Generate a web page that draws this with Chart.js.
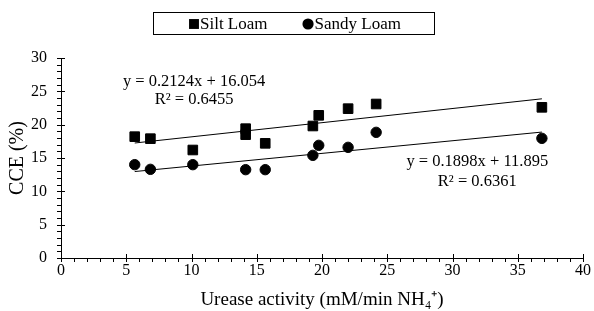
<!DOCTYPE html>
<html>
<head>
<meta charset="utf-8">
<script src="https://cdn.jsdelivr.net/npm/chart.js@4.4.1/dist/chart.umd.min.js"></script>
<style>
  body { margin: 0; background: #fff; }
  #wrap { width: 594px; height: 311px; }
</style>
</head>
<body>
<div id="wrap"><canvas id="myChart" width="594" height="311"></canvas></div>
<script>
// values
let siltX = [5.65, 6.85, 10.1, 14.15, 14.15, 15.65, 19.3, 19.75, 22.0, 24.15, 36.85];
let siltY = [18.2, 17.9, 16.2, 19.4, 18.5, 17.2, 19.8, 21.4, 22.4, 23.1, 22.6];
let sandyX = [5.65, 6.85, 10.1, 14.15, 15.65, 19.3, 19.75, 22.0, 24.15, 36.85];
let sandyY = [14.0, 13.3, 14.0, 13.25, 13.25, 15.4, 16.9, 16.6, 18.85, 17.95];

// trendline ends (as drawn in the picture)
let trendX = [5.65, 36.85];
let siltTrendY = [17.25, 23.88];
let sandyTrendY = [12.97, 18.89];

let seriesNames = ["Silt Loam", "Sandy Loam"];
let siltEquation = ["y = 0.2124x + 16.054", "R² = 0.6455"];
let sandyEquation = ["y = 0.1898x + 11.895", "R² = 0.6361"];
let xTitle = "Urease activity (mM/min NH₄⁺)";
let yTitle = "CCE (%)";

const FONT = "'Liberation Serif', 'Times New Roman', serif";

function toPoints(xs, ys) {
  return xs.map((x, i) => ({ x: x, y: ys[i] }));
}

// axis ticks, legend box and trendline equations
const extras = {
  id: "extras",
  afterDraw(chart) {
    let ctx = chart.ctx;
    let xs = chart.scales.x;
    let ys = chart.scales.y;
    let area = chart.chartArea;
    ctx.save();
    ctx.strokeStyle = "#000";
    ctx.lineWidth = 1;

    // minor ticks every 1 unit, major ticks cross the axis
    ctx.beginPath();
    for (let v = 0; v <= 40; v++) {
      let px = Math.round(xs.getPixelForValue(v)) + 0.5;
      ctx.moveTo(px, area.bottom + 4);
      ctx.lineTo(px, v % 5 === 0 ? area.bottom - 4 : area.bottom);
    }
    for (let v = 0; v <= 30; v++) {
      let py = Math.round(ys.getPixelForValue(v)) + 0.5;
      ctx.moveTo(area.left - 4, py);
      ctx.lineTo(v % 5 === 0 ? area.left + 4 : area.left, py);
    }
    ctx.stroke();

    // legend
    ctx.strokeRect(153.5, 12.5, 281, 22);
    ctx.font = "17px " + FONT;
    ctx.textBaseline = "middle";
    ctx.textAlign = "left";
    ctx.fillStyle = "#000";
    let lx = 189;
    let ly = 24;
    chart.data.datasets.slice(0, 2).forEach((ds, i) => {
      let r = ds.pointStyle === "rect" ? 7 : 5.6;
      let size = ds.pointStyle === "rect" ? 10 : 11;
      Chart.helpers.drawPoint(ctx, { pointStyle: ds.pointStyle, radius: r, rotation: 0, borderWidth: 0 }, lx + size / 2, ly);
      ctx.fillText(ds.label, lx + size + 1, ly + 1);
      lx += size + 1 + ctx.measureText(ds.label).width + 35;
    });

    // trendline equations
    ctx.font = "16.5px " + FONT;
    ctx.textAlign = "center";
    let labels = [
      { text: siltEquation, x: 10.2, y: [26.4, 23.8] },
      { text: sandyEquation, x: 31.9, y: [14.4, 11.5] }
    ];
    labels.forEach(l => {
      l.text.forEach((t, j) => {
        ctx.fillText(t, xs.getPixelForValue(l.x), ys.getPixelForValue(l.y[j]));
      });
    });
    ctx.restore();
  }
};

let ctx = document.getElementById("myChart").getContext("2d");
let myChart = new Chart(ctx, {
  type: "scatter",
  data: {
    datasets: [
      {
        label: seriesNames[0],
        data: toPoints(siltX, siltY),
        pointStyle: "rect",
        pointRadius: 6.8,
        backgroundColor: "#000",
        borderColor: "#000",
        borderWidth: 1
      },
      {
        label: seriesNames[1],
        data: toPoints(sandyX, sandyY),
        pointStyle: "circle",
        pointRadius: 5.2,
        backgroundColor: "#000",
        borderColor: "#000",
        borderWidth: 1
      },
      {
        label: "silt trend",
        data: toPoints(trendX, siltTrendY),
        showLine: true,
        pointRadius: 0,
        borderColor: "#000",
        borderWidth: 1
      },
      {
        label: "sandy trend",
        data: toPoints(trendX, sandyTrendY),
        showLine: true,
        pointRadius: 0,
        borderColor: "#000",
        borderWidth: 1
      }
    ]
  },
  options: {
    responsive: false,
    animation: false,
    devicePixelRatio: 1,
    layout: { padding: { top: 58, right: 11, left: 0, bottom: 0 } },
    plugins: {
      legend: { display: false },
      tooltip: { enabled: false }
    },
    scales: {
      x: {
        type: "linear",
        min: 0,
        max: 40,
        ticks: { stepSize: 5, color: "#000", padding: 3, font: { family: FONT, size: 16 } },
        grid: { display: false, drawTicks: false },
        border: { display: true, color: "#000", width: 1 },
        title: {
          display: true,
          text: xTitle,
          color: "#000",
          padding: 0,
          font: { family: FONT, size: 19 }
        },
        afterFit: function(scale) { scale.height = 53; }
      },
      y: {
        min: 0,
        max: 30,
        ticks: { stepSize: 5, color: "#000", padding: 14, font: { family: FONT, size: 16 } },
        grid: { display: false, drawTicks: false },
        border: { display: true, color: "#000", width: 1 },
        title: {
          display: true,
          text: yTitle,
          color: "#000",
          padding: { top: 6, bottom: 0 },
          font: { family: FONT, size: 20 }
        },
        afterFit: function(scale) { scale.width = 61; }
      }
    }
  },
  plugins: [extras]
});
</script>
</body>
</html>
